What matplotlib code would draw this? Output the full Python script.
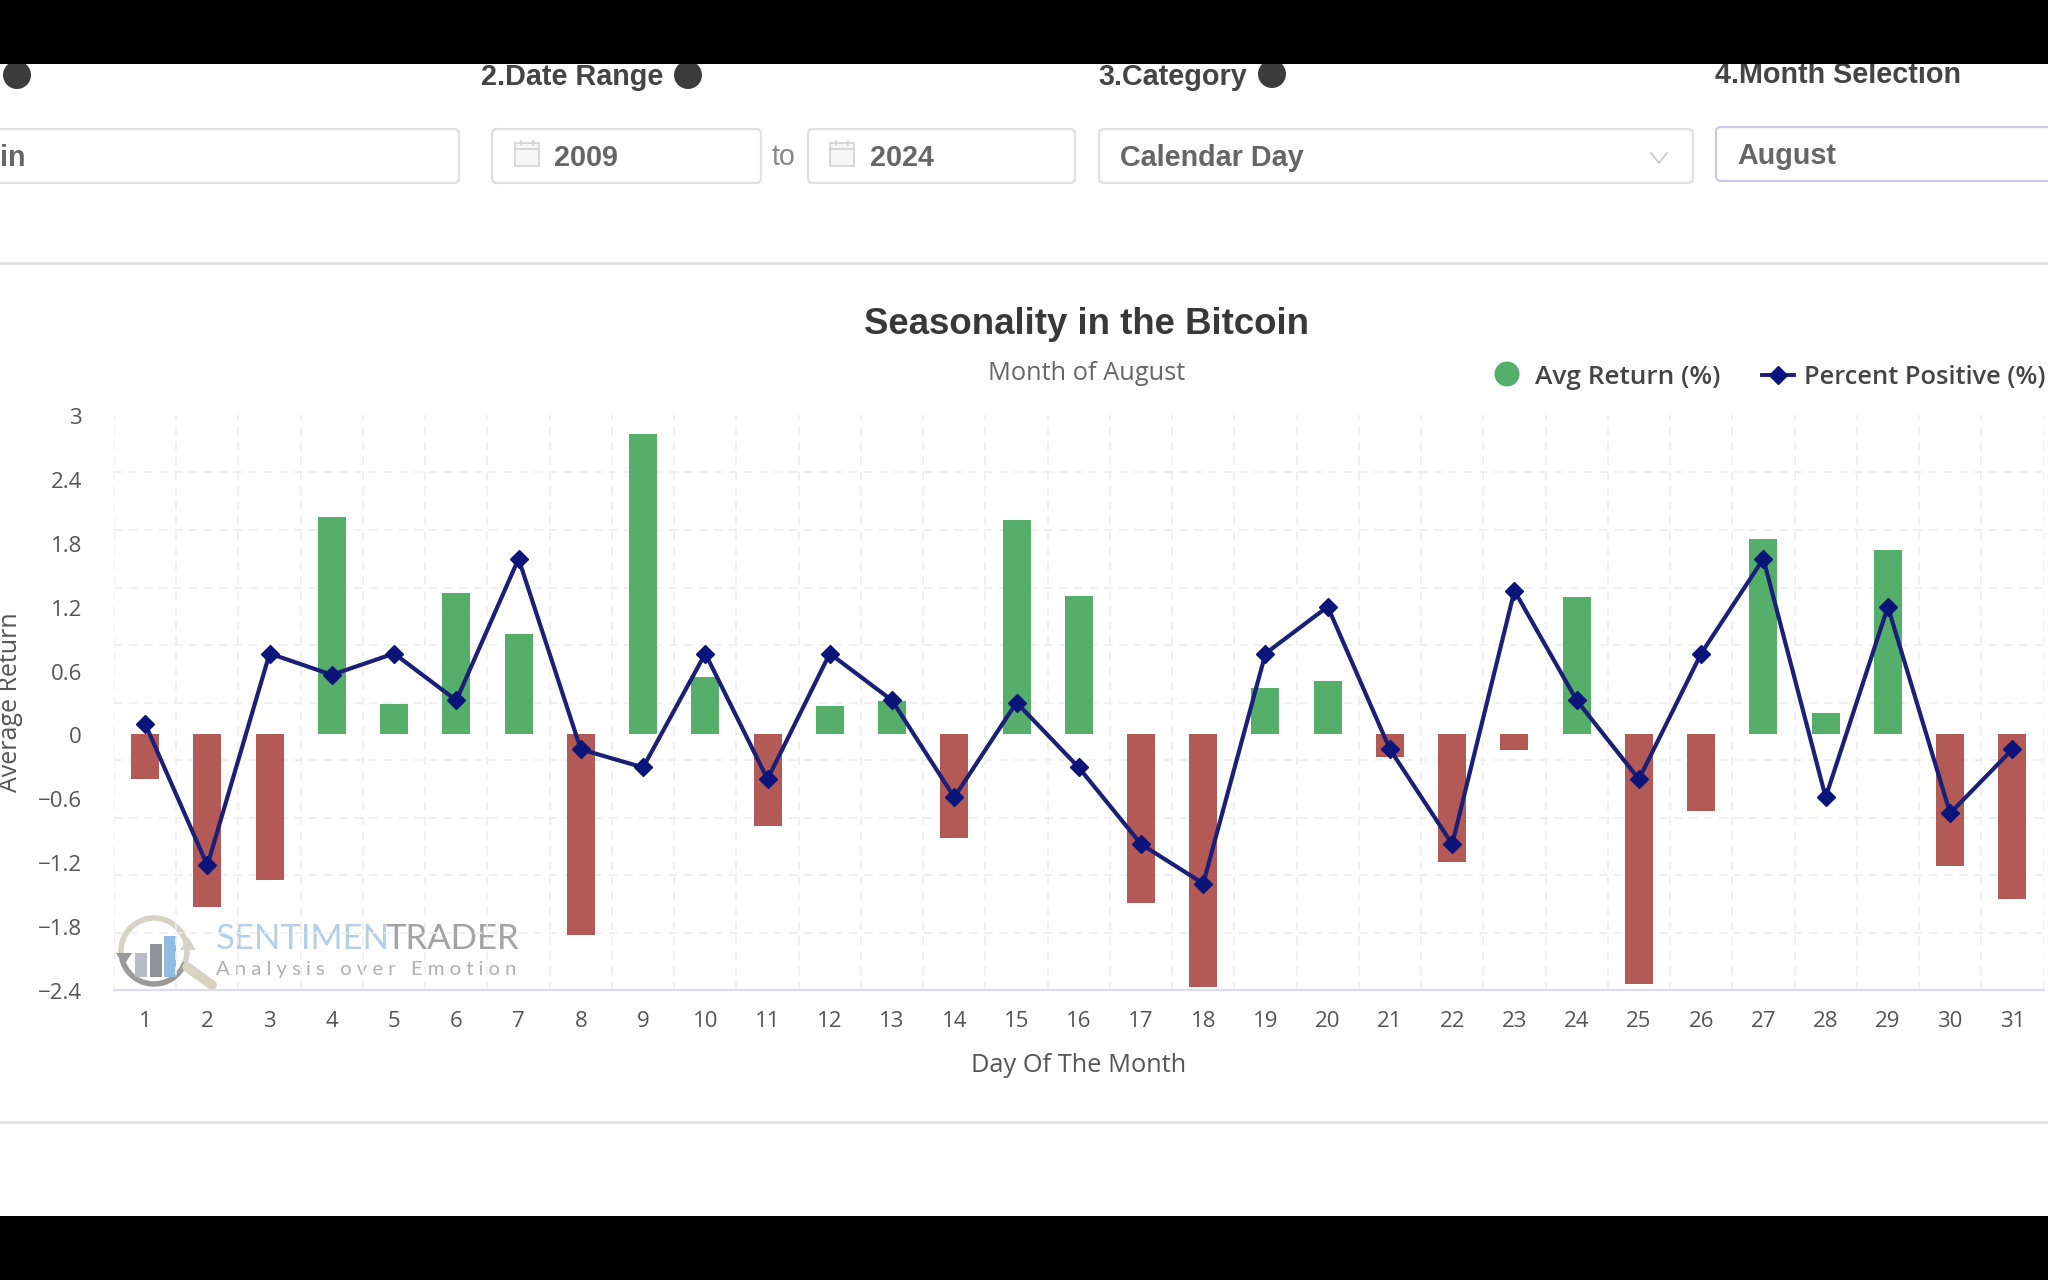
import matplotlib

matplotlib.use("Agg")
import matplotlib.pyplot as plt
import numpy as np
from matplotlib.patches import Arc, Circle, FancyBboxPatch, Polygon, Rectangle
from matplotlib.transforms import ScaledTranslation

days = list(range(1, 32))
avg_return = [
    -0.42, -1.62, -1.37, 2.04, 0.29, 1.33, 0.94, -1.88, 2.82, 0.54, -0.86,
    0.27, 0.31, -0.97, 2.01, 1.30, -1.58, -2.37, 0.44, 0.50, -0.21, -1.20,
    -0.15, 1.29, -2.34, -0.72, 1.84, 0.20, 1.73, -1.24, -1.55,
]
# the chart has no scale for this series
percent_positive = [
    0.10, -1.23, 0.76, 0.56, 0.76, 0.32, 1.65, -0.14, -0.31, 0.76, -0.42,
    0.76, 0.32, -0.59, 0.30, -0.31, -1.03, -1.40, 0.76, 1.20, -0.14, -1.03,
    1.35, 0.32, -0.42, 0.76, 1.65, -0.59, 1.20, -0.74, -0.14,
]
y_ticks = [-2.4, -1.8, -1.2, -0.6, 0, 0.6, 1.2, 1.8, 2.4, 3]
y_tick_labels = ["\u22122.4", "\u22121.8", "\u22121.2", "\u22120.6", "0", "0.6", "1.2", "1.8", "2.4", "3"]

W, H = 2048, 1280
GREEN = "#55ae6a"
RED = "#b35a57"
NAVY = "#1b1f78"
LABEL_FONT = "Liberation Sans"
CHART_FONT = "Open Sans"

fig = plt.figure(figsize=(W / 100, H / 100), dpi=100, facecolor="white")

# page furniture, drawn in pixel coordinates
ui = fig.add_axes([0, 0, 1, 1], zorder=0)
ui.set_xlim(0, W)
ui.set_ylim(H, 0)
ui.axis("off")


def box(x0, x1, y0, y1, edge="#e0e0e3"):
    ui.add_patch(FancyBboxPatch((x0 + 5, y0 + 5), x1 - x0 - 10, y1 - y0 - 10,
                                boxstyle="round,pad=5", fc="white", ec=edge, lw=1.6))


def label(x, y, s, size=20.7, color="#444444", weight="bold", family=LABEL_FONT, ha="left"):
    ui.text(x, y, s, fontsize=size, color=color, fontweight=weight, family=family,
            ha=ha, va="center", clip_on=True)


def calendar(x, y):
    ui.add_patch(Rectangle((x, y), 24, 23, fc="#f6f6f6", ec="#cfcfcf", lw=1.1))
    ui.plot([x, x + 24], [y + 6, y + 6], color="#cfcfcf", lw=1.1)
    ui.plot([x + 6, x + 6], [y - 2, y + 2], color="#cfcfcf", lw=1.1)
    ui.plot([x + 18, x + 18], [y - 2, y + 2], color="#cfcfcf", lw=1.1)


for cx, cy in [(17, 75), (688, 75), (1272, 74)]:
    ui.add_patch(Circle((cx, cy), 14, fc="#3c3c3c", ec="none"))

label(481, 77, "2.Date Range")
label(1098, 77, "3.Category")
label(1715, 75, "4.Month Selection")

box(-20, 459, 129, 183)
box(492, 761, 129, 183)
box(808, 1075, 129, 183)
box(1099, 1693, 129, 183)
box(1716, 2080, 127, 181, edge="#c9cce4")

label(0, 158, "in", color="#666666")
label(554, 158, "2009", color="#666666")
label(870, 158, "2024", color="#666666")
label(784, 157, "to", color="#888888", weight="normal", ha="center")
label(1120, 158, "Calendar Day", color="#666666")
label(1737, 156, "August", color="#666666")
calendar(515, 143)
calendar(830, 143)
ui.plot([1651, 1659, 1667], [153, 163, 153], color="#c8c8c8", lw=1.2)

ui.plot([0, W], [263, 263], color="#e2e2e6", lw=2)
ui.plot([0, W], [1122, 1122], color="#e2e2e6", lw=2)

ui.text(1087, 325, "Seasonality in the Bitcoin", fontsize=26.4, fontweight="bold",
        color="#383838", family=LABEL_FONT, ha="center", va="center")
ui.text(1087, 373, "Month of August", fontsize=18.3, color="#666666",
        family=CHART_FONT, ha="center", va="center")

# legend is placed by hand because it runs up to the right edge in the reference
ui.add_patch(Circle((1507, 374), 12.5, fc=GREEN, ec="none"))
ui.text(1535, 377, "Avg Return (%)", fontsize=18.9, fontweight="semibold", color="#444444",
        family=CHART_FONT, va="center")
ui.plot([1762, 1794], [375, 375], color=NAVY, lw=2.8)
ui.plot([1778], [375], marker="D", ms=9, color="#0b1478")
ui.text(1804, 377, "Percent Positive (%)", fontsize=18.4, fontweight="semibold", color="#444444",
        family=CHART_FONT, va="center")

# watermark
ui.add_patch(Arc((154, 951), 66, 66, theta1=20, theta2=170, color="#9a9a9a", lw=4))
ui.add_patch(Arc((154, 951), 66, 66, theta1=170, theta2=380, color="#d6d3c4", lw=4))
ui.add_patch(Polygon([[116, 953], [132, 953], [124, 965]], fc="#9a9a9a", ec="none"))
ui.add_patch(Polygon([[180, 950], [196, 950], [188, 937]], fc="#d6d3c4", ec="none"))
for x0, top, color in [(135, 953, "#b9bcc6"), (150, 944, "#8f9297"), (164, 936, "#8fbce0")]:
    ui.add_patch(Rectangle((x0, top), 12, 977 - top, fc=color, ec="none"))
ui.plot([187, 212], [967, 985], color="#d8d3c0", lw=7, solid_capstyle="round")
ui.text(216, 939, "SENTIMEN", fontsize=25, color="#b4cfe6", family="Lato", va="center")
ui.text(385, 939, "TRADER", fontsize=25, color="#a3a3a3", family="Lato", va="center")
ui.text(216, 969, "A n a l y s i s   o v e r   E m o t i o n", fontsize=14.6, color="#b0b0b0",
        family="Lato", va="center")

# black video bars
ui.add_patch(Rectangle((0, 0), W, 64, fc="black", ec="none", zorder=10))
ui.add_patch(Rectangle((0, 1216), W, 64, fc="black", ec="none", zorder=10))

# the chart itself
left, right, top, bottom = 114, 2043.5, 415, 990
ax = fig.add_axes([left / W, 1 - bottom / H, (right - left) / W, (bottom - top) / H], zorder=1)
ax.patch.set_alpha(0)

bar_colors = [GREEN if v >= 0 else RED for v in avg_return]
ax.bar(days, avg_return, width=0.45, color=bar_colors, zorder=2)
ax.plot(days, percent_positive, color=NAVY, lw=3, marker="D", ms=9,
        mfc="#0b1478", mec="#0b1478", zorder=3)

ax.set_xlim(0.5, 31.5)
ax.set_ylim(-2.4, 3)
ax.set_xticks(days)
ax.set_xticklabels([str(d) for d in days], family=CHART_FONT, fontsize=16, color="#555555")
ax.set_yticks(y_ticks)
ax.set_yticklabels(y_tick_labels, family=CHART_FONT, fontsize=16, color="#555555")
ax.tick_params(axis="both", length=0)
ax.tick_params(axis="x", pad=15)
ax.tick_params(axis="y", pad=23)

# nudge the y labels down a little
nudge = ScaledTranslation(0, -1 / 100, fig.dpi_scale_trans)
for lbl in ax.get_yticklabels():
    lbl.set_transform(lbl.get_transform() + nudge)

# grid has ten bands, so it does not line up with the nine labelled steps
ax.set_yticks(np.linspace(-2.4, 3, 11), minor=True)
ax.set_xticks(np.arange(0.5, 32, 1), minor=True)
ax.tick_params(which="minor", length=0)
ax.grid(which="minor", color="#eeeeee", linestyle=(0, (5, 4)), lw=1.2, zorder=0)
ax.grid(which="major", visible=False)

for side in ["top", "right", "left"]:
    ax.spines[side].set_visible(False)
ax.spines["bottom"].set_color("#dcdcee")
ax.spines["bottom"].set_linewidth(1.6)

ui.text(1079, 1065, "Day Of The Month", fontsize=18.3, color="#555555", family=CHART_FONT,
        ha="center", va="center")
ui.text(11, 702, "Average Return", fontsize=18, color="#555555", family=CHART_FONT,
        rotation=90, ha="center", va="center")

fig.savefig("out.png", dpi=100)
